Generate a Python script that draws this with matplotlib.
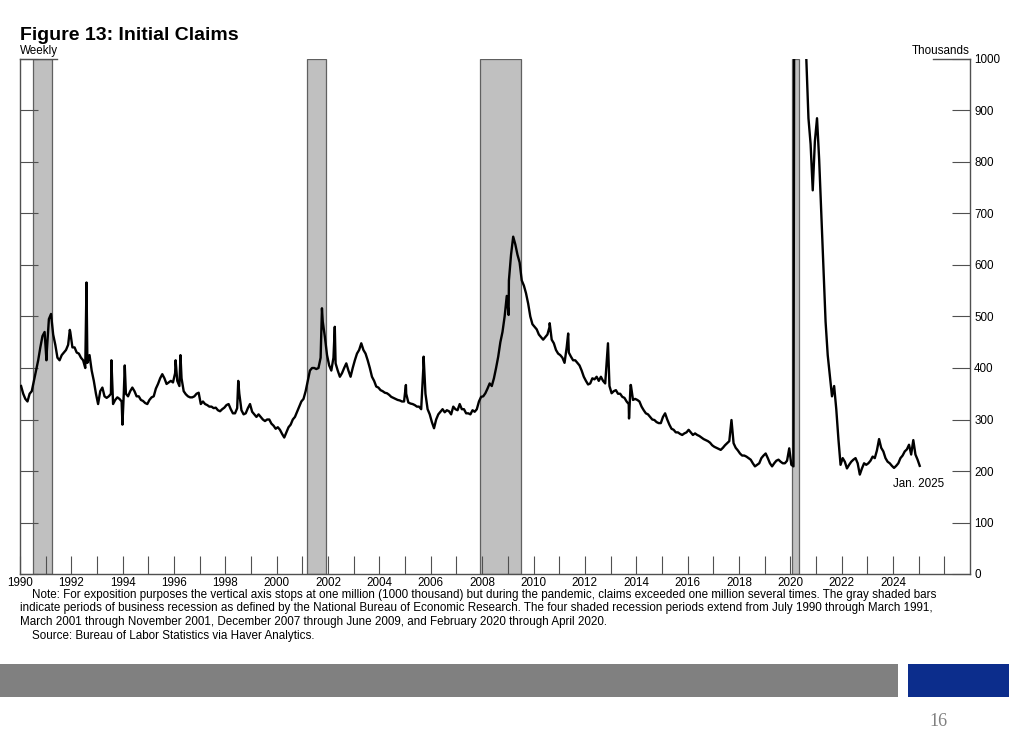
import numpy as np
import matplotlib.pyplot as plt
from matplotlib.patches import Rectangle

plt.rcParams["font.family"] = ["Liberation Sans", "DejaVu Sans"]

# Monthly initial claims (thousands), Jan..Dec per year
claims_1990s = [
    365, 350, 340, 335, 350, 355, 375, 395, 415, 440, 462, 470,   # 1990
    430, 495, 505, 465, 445, 420, 415, 425, 430, 435, 445, 470,   # 1991
    440, 440, 430, 428, 420, 415, 400, 410, 425, 395, 375, 350,   # 1992
    330, 355, 362, 345, 342, 345, 350, 330, 338, 343, 340, 335,   # 1993
    350, 350, 345, 355, 362, 355, 345, 345, 338, 336, 332, 330,   # 1994
    338, 343, 345, 360, 369, 380, 388, 380, 369, 372, 375, 372,   # 1995
    390, 375, 365, 380, 355, 349, 345, 343, 343, 345, 350, 352,   # 1996
    330, 335, 330, 328, 325, 325, 322, 323, 318, 316, 320, 323,   # 1997
    328, 330, 320, 312, 312, 322, 350, 318, 310, 312, 322, 330,   # 1998
    315, 310, 305, 310, 305, 300, 297, 300, 300, 292, 288, 282,   # 1999
]
claims_2000s = [
    285, 280, 272, 265, 275, 285, 290, 300, 305, 315, 325, 335,   # 2000
    340, 355, 375, 395, 400, 400, 398, 400, 420, 490, 460, 425,   # 2001
    405, 395, 420, 409, 395, 383, 390, 400, 409, 395, 383, 400,   # 2002
    415, 428, 435, 448, 435, 428, 415, 400, 383, 375, 364, 362,   # 2003
    357, 355, 352, 351, 348, 344, 342, 340, 338, 337, 335, 335,   # 2004
    350, 333, 331, 330, 328, 325, 325, 320, 400, 350, 320, 310,   # 2005
    295, 283, 300, 310, 315, 320, 314, 318, 316, 310, 325, 320,   # 2006
    318, 330, 320, 320, 312, 312, 310, 318, 315, 320, 335, 344,   # 2007
    345, 351, 360, 370, 365, 380, 400, 422, 450, 470, 500, 540,   # 2008
    570, 620, 655, 640, 620, 605, 570, 560, 545, 525, 500, 485,   # 2009
]
claims_2010s = [
    480, 475, 465, 460, 455, 460, 465, 480, 455, 448, 435, 428,   # 2010
    425, 420, 410, 440, 430, 422, 415, 415, 410, 405, 395, 383,   # 2011
    375, 368, 370, 380, 378, 383, 375, 383, 375, 370, 430, 365,   # 2012
    351, 355, 357, 350, 350, 344, 342, 335, 330, 367, 338, 340,   # 2013
    338, 335, 325, 318, 312, 310, 305, 300, 299, 295, 293, 293,   # 2014
    305, 312, 300, 290, 282, 280, 275, 275, 272, 270, 273, 275,   # 2015
    280, 275, 270, 273, 270, 268, 265, 262, 260, 258, 255, 250,   # 2016
    247, 245, 243, 241, 245, 250, 254, 258, 299, 254, 245, 240,   # 2017
    234, 230, 230, 228, 225, 222, 215, 209, 212, 215, 225, 230,   # 2018
    234, 225, 215, 209, 215, 220, 222, 218, 215, 215, 220, 244,   # 2019
]
claims_2020s = [
    212, 209, 2900, 4500, 2300, 1500, 1300, 1000, 885, 835, 745, 840,   # 2020
    885, 805, 700, 600, 490, 425, 385, 345, 365, 320, 262, 212,         # 2021
    225, 218, 205, 212, 218, 222, 225, 215, 193, 205, 215, 212,         # 2022
    215, 220, 228, 225, 240, 262, 245, 238, 225, 218, 215, 210,         # 2023
    206, 210, 215, 225, 230, 238, 242, 251, 232, 260, 232, 222,         # 2024
    210,                                                                # Jan 2025
]

# Single-week spikes visible on the chart (decimal year, thousands)
spike_dates = [1991.03, 1991.94, 1992.59, 1993.56, 1993.99, 1994.08, 1996.06,
               1996.25, 1998.50, 2001.76, 2002.26, 2005.03, 2005.72, 2009.03,
               2010.63, 2011.35, 2012.90, 2013.72, 2013.78, 2017.71, 2019.96]
spike_values = [415, 474, 566, 415, 290, 405, 415,
                425, 375, 516, 480, 367, 422, 503,
                487, 467, 448, 302, 367, 299, 244]

# NBER recessions (decimal year)
rec_start = [1990.5, 2001.17, 2007.92, 2020.08]
rec_end = [1991.25, 2001.92, 2009.5, 2020.33]

monthly = claims_1990s + claims_2000s + claims_2010s + claims_2020s
t_month = 1990 + (np.arange(len(monthly)) + 0.5) / 12
t = np.concatenate([t_month, spike_dates])
v = np.concatenate([monthly, spike_values])
order = np.argsort(t)
t, v = t[order], v[order]

W, H = 1009, 755
fig = plt.figure(figsize=(W / 100, H / 100), dpi=100)
ax = fig.add_axes([20 / W, (H - 574) / H, 950 / W, (574 - 59) / H])

spine_c = "#505050"
for s0, s1 in zip(rec_start, rec_end):
    ax.axvspan(s0, s1, ymin=0, ymax=1, facecolor="#c0c0c0",
               edgecolor="#606060", lw=0.9, zorder=1)

ax.plot(t, v, color="black", lw=1.7, zorder=3)

ax.set_xlim(1990, 2027)
ax.set_ylim(0, 1000)

ax.spines["top"].set_visible(False)
for s in ["left", "right", "bottom"]:
    ax.spines[s].set_color(spine_c)
    ax.spines[s].set_linewidth(1.0)

years = list(range(1990, 2027))
ax.set_xticks(years)
ax.set_xticklabels([str(y) if (y % 2 == 0 and y <= 2024) else "" for y in years],
                   fontsize=8.4)
ax.set_yticks(range(0, 1001, 100))
ax.yaxis.tick_right()
ax.tick_params(axis="y", which="both", direction="in", length=13,
               left=True, right=True, labelleft=False, labelright=True,
               color=spine_c, labelsize=8.4, pad=3)
ax.tick_params(axis="x", direction="in", length=13, color=spine_c, pad=2)

# longer marks at the 1000 line (no full top frame)
ax.plot([0, 37 / 950], [1, 1], transform=ax.transAxes, color=spine_c,
        lw=1.0, clip_on=False)
ax.plot([1 - 37 / 950, 1], [1, 1], transform=ax.transAxes, color=spine_c,
        lw=1.0, clip_on=False)

ax.text(2025.0, 175, "Jan. 2025", fontsize=8.4, ha="center", va="center")

fig.text(20 / W, 1 - 35 / H, "Figure 13: Initial Claims", fontsize=14,
         fontweight="bold", ha="left", va="center")
fig.text(20 / W, 1 - 51 / H, "Weekly", fontsize=8.4, ha="left", va="center")
fig.text(970 / W, 1 - 51 / H, "Thousands", fontsize=8.4, ha="right", va="center")

notes = [
    (32, 595, "Note: For exposition purposes the vertical axis stops at one million (1000 thousand) but during the pandemic, claims exceeded one million several times. The gray shaded bars"),
    (20, 608, "indicate periods of business recession as defined by the National Bureau of Economic Research. The four shaded recession periods extend from July 1990 through March 1991,"),
    (20, 622, "March 2001 through November 2001, December 2007 through June 2009, and February 2020 through April 2020."),
    (32, 636, "Source: Bureau of Labor Statistics via Haver Analytics."),
]
for x0, y0, s in notes:
    fig.text(x0 / W, 1 - y0 / H, s, fontsize=8.4, ha="left", va="center")

# slide footer bars and page number
fig.add_artist(Rectangle((0, 1 - 697 / H), 898 / W, 33 / H,
                         transform=fig.transFigure, facecolor="#808080",
                         edgecolor="none"))
fig.add_artist(Rectangle((908 / W, 1 - 697 / H), 101 / W, 33 / H,
                         transform=fig.transFigure, facecolor="#0c2d8c",
                         edgecolor="none"))
fig.text(938 / W, 1 - 721 / H, "16", fontsize=13, color="#808080",
         family="Liberation Serif", ha="center", va="center")

fig.savefig("out.png", dpi=100)
plt.close()
